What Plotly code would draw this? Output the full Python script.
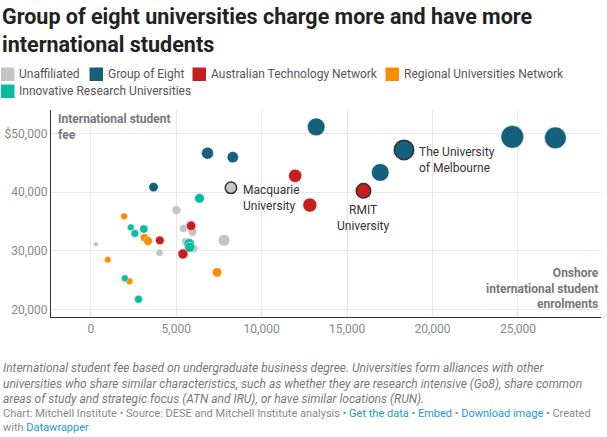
import plotly.graph_objects as go

# ---- data ----
groups = ['Unaffiliated', 'Group of Eight', 'Australian Technology Network',
          'Regional Universities Network', 'Innovative Research Universities']
colors = ['#c4c4c4', '#15607a', '#c71e1d', '#fa8c00', '#09bb9f']

# onshore international enrolments, fee, total students (k) for bubble size
unaff_x = [300, 4020, 5010, 5420, 5950, 5560, 6010, 7800, 8200]
unaff_y = [31100, 29660, 36930, 33800, 33230, 31520, 30400, 31770, 40730]
unaff_s = [6, 13, 20, 16, 19, 17, 19, 34, 33]
unaff_lab = ['', '', '', '', '', '', '', '', 'Macquarie<br>University']

go8_x = [3670, 6830, 8310, 13190, 16940, 18330, 24670, 27190]
go8_y = [40850, 46640, 45960, 51120, 43350, 47200, 49420, 49250]
go8_s = [22, 36, 32, 78, 78, 95, 129, 118]
go8_lab = ['', '', '', '', '', 'The University<br>of Melbourne', '', '']

atn_x = [4040, 5390, 5870, 11960, 12820, 15960]
atn_y = [31770, 29440, 34250, 42780, 37790, 40220]
atn_s = [19, 25, 22, 44, 49, 53]
atn_lab = ['', '', '', '', '', 'RMIT<br>University']

run_x = [990, 1950, 2260, 3140, 3350, 5480, 7390]
run_y = [28470, 35860, 24790, 32210, 31650, 29720, 26320]
run_s = [11, 12, 12, 17, 19, 16, 22]
run_lab = [''] * 7

iru_x = [1990, 2340, 2580, 2790, 3100, 5760, 5790, 6360]
iru_y = [25300, 33990, 32960, 21720, 33700, 31150, 30600, 38930]
iru_s = [12, 12, 15, 16, 17, 29, 25, 24]
iru_lab = [''] * 8

x_ticks = [0, 5000, 10000, 15000, 20000, 25000]
x_ticktext = ['0', '5,000', '10,000', '15,000', '20,000', '25,000']
y_ticks = [20000, 30000, 40000, 50000]
y_ticktext = ['20,000', '30,000', '40,000', '$50,000']

series = {
    'Unaffiliated': (unaff_x, unaff_y, unaff_s, unaff_lab),
    'Regional Universities Network': (run_x, run_y, run_s, run_lab),
    'Innovative Research Universities': (iru_x, iru_y, iru_s, iru_lab),
    'Group of Eight': (go8_x, go8_y, go8_s, go8_lab),
    'Australian Technology Network': (atn_x, atn_y, atn_s, atn_lab),
}

FONT = 'Roboto'
W, H = 607, 437
ML, MR, MT, MB = 51, 6, 110, 120
PW, PH = W - ML - MR, H - MT - MB

def px_x(p):  # pixel -> paper
    return (p - ML) / PW

def px_y(p):
    return (H - MB - p) / PH

fig = go.Figure()

# label offsets for the highlighted unis (xshift, yshift, xanchor, align)
label_pos = {
    'Macquarie<br>University': (10, 7, 'left', 'left'),
    'The University<br>of Melbourne': (13, 7, 'left', 'left'),
    'RMIT<br>University': (0, -10, 'center', 'center'),
}

for name, (xs, ys, ss, labs) in series.items():
    col = colors[groups.index(name)]
    line_cols = ['#333333' if l else 'rgba(255,255,255,0.8)' for l in labs]
    line_w = [1.5 if l else 0.6 for l in labs]
    fig.add_trace(go.Scatter(
        x=xs, y=ys, mode='markers', name=name, showlegend=False,
        marker=dict(size=ss, sizemode='area', sizeref=0.5, color=col, opacity=1,
                    line=dict(color=line_cols, width=line_w)),
        hoverinfo='skip'))
    for xv, yv, l in zip(xs, ys, labs):
        if l:
            xs_, ys_, xa, al = label_pos[l]
            fig.add_annotation(x=xv, y=yv, text=l, showarrow=False,
                               xanchor=xa, yanchor='top', align=al,
                               xshift=xs_, yshift=ys_,
                               font=dict(family=FONT, size=12, color='#333333'))

# legend drawn as squares + text (Datawrapper style)
legend_pos = [(1, 74), (89.5, 74), (192.5, 74), (385.5, 74), (1, 91)]
for g, c, (lx, ly) in zip(groups, colors, legend_pos):
    fig.add_shape(type='rect', xref='paper', yref='paper',
                  x0=px_x(lx), x1=px_x(lx + 13.5),
                  y0=px_y(ly + 7), y1=px_y(ly - 6.5),
                  fillcolor=c, line=dict(width=0))
    fig.add_annotation(xref='paper', yref='paper', x=px_x(lx + 16), y=px_y(ly),
                       text=g, showarrow=False, xanchor='left', yanchor='middle',
                       font=dict(family=FONT, size=12, color='#555555'))

# title
fig.add_annotation(xref='paper', yref='paper', x=px_x(0), y=px_y(2),
                   text='<b>Group of eight universities charge more and have more<br>'
                        'international students</b>',
                   showarrow=False, xanchor='left', yanchor='top', align='left',
                   font=dict(family=FONT, size=21.5, color='#222222'))

# axis titles inside plot
fig.add_annotation(xref='paper', yref='paper', x=px_x(56), y=px_y(110),
                   text='<b>International student<br>fee</b>', showarrow=False,
                   xanchor='left', yanchor='top', align='left',
                   font=dict(family=FONT, size=12, color='#777777'))
fig.add_annotation(xref='paper', yref='paper', x=1, y=px_y(313),
                   text='<b>Onshore<br>international student<br>enrolments</b>',
                   showarrow=False, xanchor='right', yanchor='bottom', align='right',
                   font=dict(family=FONT, size=12, color='#777777'))

# notes and source
notes = ('<i>International student fee based on undergraduate business degree. '
         'Universities form alliances with other<br>universities who share similar '
         'characteristics, such as whether they are research intensive (Go8), share common'
         '<br>areas of study and strategic focus (ATN and IRU), or have similar locations (RUN).</i>')
fig.add_annotation(xref='paper', yref='paper', x=px_x(1), y=px_y(359),
                   text=notes, showarrow=False, xanchor='left', yanchor='top',
                   align='left', font=dict(family=FONT, size=12, color='#777777'))
link = '#1d98cf'
source = ('Chart: Mitchell Institute • Source: DESE and Mitchell Institute analysis • '
          f'<span style="color:{link}">Get the data</span> • '
          f'<span style="color:{link}">Embed</span> • '
          f'<span style="color:{link}">Download image</span> • Created'
          f'<br>with <span style="color:{link}">Datawrapper</span>')
fig.add_annotation(xref='paper', yref='paper', x=px_x(1), y=px_y(405),
                   text=source, showarrow=False, xanchor='left', yanchor='top',
                   align='left', font=dict(family=FONT, size=11, color='#888888'))

fig.update_layout(
    width=W, height=H,
    margin=dict(l=ML, r=MR, t=MT, b=MB),
    paper_bgcolor='white', plot_bgcolor='white',
    xaxis=dict(range=[-2330, 29860], tickvals=x_ticks, ticktext=x_ticktext,
               showgrid=True, gridcolor='#e6e6e6', gridwidth=1, zeroline=False,
               showline=True, linecolor='#333333', linewidth=1.3, ticks='',
               tickfont=dict(family=FONT, size=12, color='#888888')),
    yaxis=dict(range=[18700, 54000], tickvals=y_ticks, ticktext=y_ticktext,
               showgrid=True, gridcolor='#e6e6e6', gridwidth=1, zeroline=False,
               showline=True, linecolor='#333333', linewidth=1.3, ticks='',
               tickfont=dict(family=FONT, size=12, color='#888888')),
    showlegend=False,
)

# drop the default body margin so the figure sits at the window's corner
fig.write_html('out.html', config={'displayModeBar': False},
               post_script="document.body.style.margin='0';")
